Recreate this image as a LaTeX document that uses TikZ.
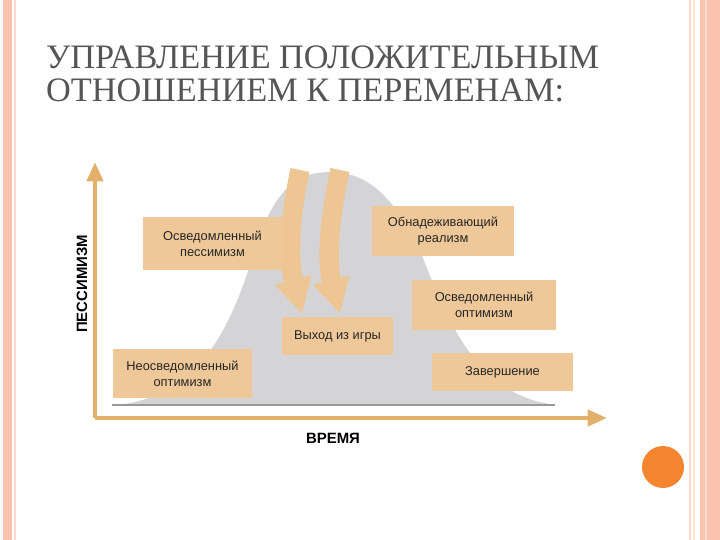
\documentclass[tikz,border=0pt]{standalone}
\usepackage{fontspec}
\setmainfont{Liberation Serif}
\newfontfamily\sansf{Liberation Sans}
\usetikzlibrary{arrows.meta}
\definecolor{salmon}{HTML}{F9C3AE}
\definecolor{tan}{HTML}{EFC899}
\definecolor{axis}{HTML}{E2B06A}
\definecolor{bell}{HTML}{D4D4D6}
\definecolor{ttl}{HTML}{555555}
\definecolor{dot}{HTML}{F5862F}
\tikzset{
  box/.style={fill=tan, inner sep=0pt, align=center, font=\sansf\fontsize{7.3}{9}\selectfont, text=black!85},
  bigarrow/.style={line width=11pt, draw=tan!90!axis, -{Triangle[length=20pt,width=20pt]}}
}
\begin{document}
\begin{tikzpicture}[x=0.02cm,y=-0.02cm]
\useasboundingbox (0,0) rectangle (720,540);
% borders
\fill[salmon] (3,0) rectangle (12,540);
\draw[salmon!60, line width=0.6pt] (15,0) -- (15,540);
\draw[salmon!70, line width=0.8pt] (690,0) -- (690,540);
\draw[salmon!50, line width=0.8pt] (694,0) -- (694,540);
\fill[salmon] (700,0) rectangle (720,540);
\draw[salmon!60!white, line width=0.8pt] (706,0) -- (706,540);
\node[circle, fill=dot, minimum size=0.84cm, inner sep=0pt] (dotc) at (663,467) {};
% title
\node[anchor=west, text=ttl, align=left, font=\fontsize{19.5}{19}\selectfont] (title) at (40,74)
  {УПРАВЛЕНИЕ ПОЛОЖИТЕЛЬНЫМ\\ОТНОШЕНИЕМ К ПЕРЕМЕНАМ:};
% bell
\fill[bell] (118,405) .. controls (200,395) and (230,330) .. (255,250)
  .. controls (275,185) and (300,172) .. (330,172)
  .. controls (370,172) and (395,200) .. (420,250)
  .. controls (450,330) and (480,395) .. (555,405) -- cycle;
\draw[gray!80, line width=1pt] (112,405) -- (555,405);
% axes
\coordinate (o) at (95,418);
\coordinate (ytop) at (95,162);
\coordinate (xend) at (607,418);
\draw[axis, line width=2.6pt, -{Triangle[length=11pt,width=9pt]}] (o) -- (ytop);
\draw[axis, line width=2.6pt, -{Triangle[length=11pt,width=9pt]}] (o) -- (xend);
\node[rotate=90, font=\sansf\bfseries\fontsize{8.5}{10}\selectfont] (ylab) at (82,284) {ПЕССИМИЗМ};
\node[font=\sansf\bfseries\fontsize{8.5}{10}\selectfont] (xlab) at (333,438) {ВРЕМЯ};
% big arrows
\coordinate (a1s) at (300,170);
\coordinate (a1e) at (302,314);
\coordinate (a2s) at (340,170);
\coordinate (a2e) at (340,314);
\draw[bigarrow] (a1s) .. controls (290,215) and (288,260) .. (a1e);
\draw[bigarrow] (a2s) .. controls (330,215) and (326,260) .. (a2e);
% boxes
\node[box, minimum width=2.78cm, minimum height=1.06cm] (b1) at (212.5,243.5) {Осведомленный\\пессимизм};
\node[box, minimum width=2.84cm, minimum height=1.0cm] (b2) at (443,231) {Обнадеживающий\\реализм};
\node[box, minimum width=2.88cm, minimum height=1.0cm] (b3) at (484,305) {Осведомленный\\оптимизм};
\node[box, minimum width=2.22cm, minimum height=0.76cm] (b4) at (337.5,336) {Выход из игры};
\node[box, minimum width=2.78cm, minimum height=0.98cm] (b5) at (182.5,373.5) {Неосведомленный\\оптимизм};
\node[box, minimum width=2.82cm, minimum height=0.76cm] (b6) at (502.5,372) {Завершение};
\end{tikzpicture}
\end{document}
